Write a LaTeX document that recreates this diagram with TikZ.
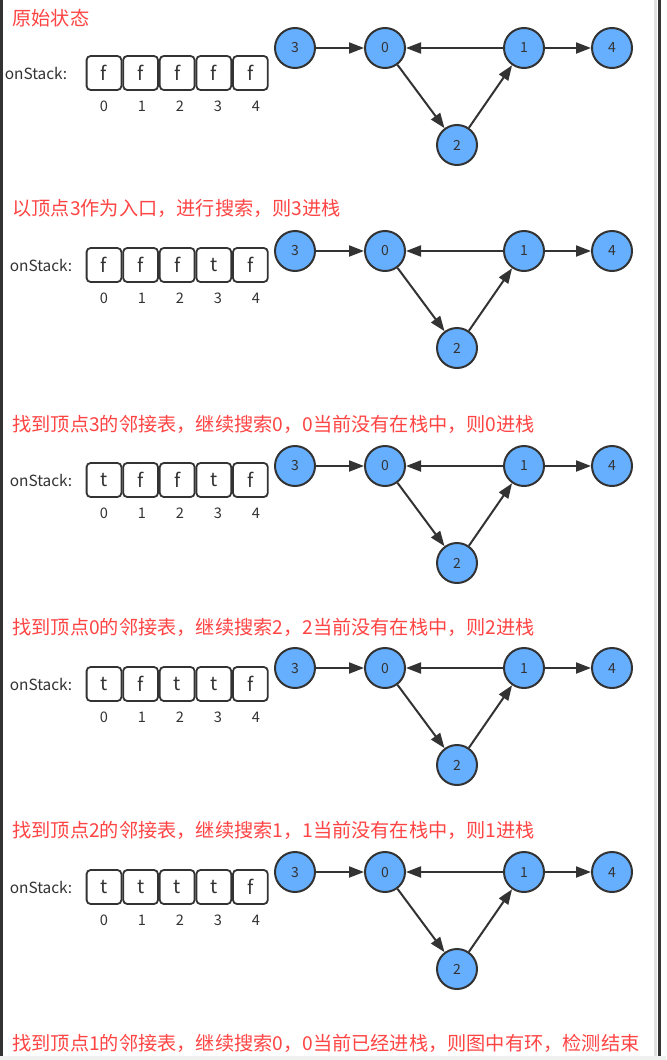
\documentclass[tikz,border=0pt]{standalone}
\usepackage{fontspec}
\setmainfont{Noto Sans CJK SC}
\usetikzlibrary{arrows.meta}
\definecolor{titleRed}{HTML}{FF4444}
\definecolor{vertexBlue}{HTML}{66AFFF}
\definecolor{lineGray}{HTML}{333333}

\tikzset{
  vertex/.style={circle, draw=lineGray, line width=1pt, fill=vertexBlue, minimum size=20pt, inner sep=0pt,
    font=\fontsize{7}{8}\selectfont, text=lineGray},
  flagbox/.style={draw=lineGray, line width=0.9pt, rounded corners=2pt, minimum width=17.4pt,
    minimum height=17pt, inner sep=0pt, font=\fontsize{9.5}{10}\selectfont, text=lineGray},
  edge/.style={-{Triangle[length=7.5pt,width=5.5pt]}, line width=1pt, draw=lineGray},
  steptitle/.style={anchor=west, text=titleRed, inner sep=0pt, font=\fontsize{9.6}{11}\selectfont},
  small/.style={inner sep=0pt, text=lineGray, font=\fontsize{7.3}{8}\selectfont},
}

\begin{document}
\begin{tikzpicture}[x=0.5pt, y=-0.5pt]
  \useasboundingbox (0,0) rectangle (666,1060);
  % frame of the screenshot
  \fill[white] (0,0) rectangle (666,1060);
  \fill[black!6] (0,1056) rectangle (666,1060);
  \fill[lineGray] (0,0) rectangle (3,1056);
  \fill[black!12] (654,0) rectangle (657,1056);
  \fill[lineGray] (658,0) rectangle (661,1056);

  % one panel per step
  \foreach \ty/\ny/\by/\ox/\flags/\caption [count=\p] in {
      18/48/73/36/{f,f,f,f,f}/{原始状态},
      208/251/265/41/{f,f,f,t,f}/{以顶点3作为入口，进行搜索，则3进栈},
      424/466/480/41/{t,f,f,t,f}/{找到顶点3的邻接表，继续搜索0，0当前没有在栈中，则0进栈},
      627/668/684/41/{t,f,t,t,f}/{找到顶点0的邻接表，继续搜索2，2当前没有在栈中，则2进栈},
      830/872/887/41/{t,t,t,t,f}/{找到顶点2的邻接表，继续搜索1，1当前没有在栈中，则1进栈}} {
    \node[steptitle] (title\p) at (12,\ty) {\caption};
    \node[small, font=\fontsize{7.7}{8}\selectfont] (label\p) at (\ox,\by) {onStack:};
    \foreach \v [count=\k from 0] in \flags {
      \node[flagbox] (box\p-\k) at (104+36.6*\k,\by) {\v};
      \node[small] (idx\p-\k) at (104+38*\k,\by+33) {\k};
    }
    \node[vertex] (v3-\p) at (295,\ny) {3};
    \node[vertex] (v0-\p) at (385,\ny) {0};
    \node[vertex] (v1-\p) at (524,\ny) {1};
    \node[vertex] (v4-\p) at (612,\ny) {4};
    \node[vertex] (v2-\p) at (457,\ny+97) {2};
    \draw[edge] (v3-\p) -- (v0-\p);
    \draw[edge] (v1-\p) -- (v0-\p);
    \draw[edge] (v1-\p) -- (v4-\p);
    \draw[edge] (v0-\p) -- (v2-\p);
    \draw[edge] (v2-\p) -- (v1-\p);
  }

  \node[steptitle] (title6) at (12,1043) {找到顶点1的邻接表，继续搜索0，0当前已经进栈，则图中有环，检测结束};
\end{tikzpicture}
\end{document}
